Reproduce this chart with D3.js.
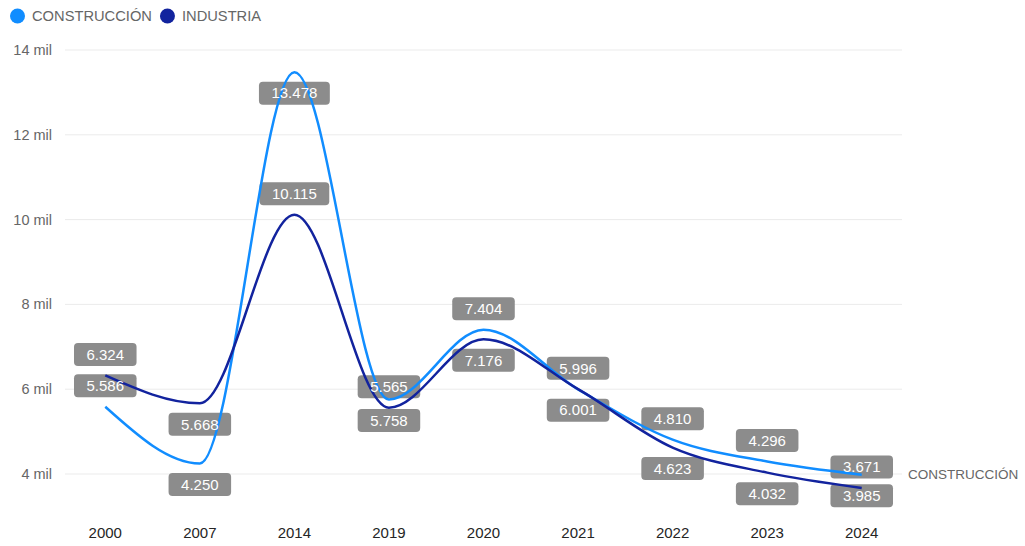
<!DOCTYPE html>
<html>
<head>
<meta charset="utf-8">
<script src="https://cdn.jsdelivr.net/npm/d3@7"></script>
<style>
  body { margin: 0; background: #fff; }
  text { font-family: "Liberation Sans", Arial, sans-serif; }
</style>
</head>
<body>
<script>
const width = 1025;
const height = 546;

const years = ['2000', '2007', '2014', '2019', '2020', '2021', '2022', '2023', '2024'];
const construccion = [5586, 4250, 13478, 5758, 7404, 5996, 4810, 4296, 3985];
const industria = [6324, 5668, 10115, 5565, 7176, 6001, 4623, 4032, 3671];
const yTicks = [4000, 6000, 8000, 10000, 12000, 14000];

// which side of the point the data label sits (true = above)
const consLabelAbove = [true, false, false, false, true, true, true, true, false];
const indLabelAbove = [true, false, true, true, false, false, false, false, true];

const series = [
  { name: 'CONSTRUCCIÓN', values: construccion, above: consLabelAbove, color: '#118DFF' },
  { name: 'INDUSTRIA', values: industria, above: indLabelAbove, color: '#12239E' }
];

const svg = d3.select('body').append('svg')
  .attr('width', width)
  .attr('height', height);

const x = d3.scalePoint()
  .domain(years)
  .range([58, 909])
  .padding(0.5);

const y = d3.scaleLinear()
  .domain([4000, 14000])
  .range([474, 50]);

const fmt = d3.format(',');
const fmtNum = v => fmt(v).replace(',', '.');

// gridlines + y labels
const grid = svg.append('g');
grid.selectAll('line')
  .data(yTicks)
  .enter().append('line')
  .attr('x1', 65)
  .attr('x2', 902)
  .attr('y1', d => y(d))
  .attr('y2', d => y(d))
  .style('stroke', '#ebebeb')
  .style('stroke-width', 1);

grid.selectAll('text')
  .data(yTicks)
  .enter().append('text')
  .attr('x', 52)
  .attr('y', d => y(d))
  .attr('dy', '0.35em')
  .attr('text-anchor', 'end')
  .style('font-size', '14.5px')
  .style('fill', '#666')
  .text(d => (d / 1000) + ' mil');

// x labels
svg.append('g').selectAll('text')
  .data(years)
  .enter().append('text')
  .attr('x', d => x(d))
  .attr('y', 538)
  .attr('text-anchor', 'middle')
  .style('font-size', '15px')
  .style('fill', '#252525')
  .text(d => d);

// legend
const legend = svg.append('g');
let lx = 10;
series.forEach(s => {
  legend.append('circle')
    .attr('cx', lx + 7.5)
    .attr('cy', 16)
    .attr('r', 7.5)
    .style('fill', s.color);
  const t = legend.append('text')
    .attr('x', lx + 22)
    .attr('y', 16)
    .attr('dy', '0.35em')
    .style('font-size', '14.7px')
    .style('fill', '#666')
    .text(s.name);
  lx += 22 + t.node().getComputedTextLength() + 8;
});

// label boxes behind the lines
const labels = [];
series.forEach(s => {
  s.values.forEach((v, i) => {
    labels.push({
      cx: x(years[i]),
      cy: y(v) + (s.above[i] ? -21 : 21),
      text: fmtNum(v)
    });
  });
});

const boxG = svg.append('g');
const textG = svg.append('g');

const line = d3.line()
  .x((d, i) => x(years[i]))
  .y(d => y(d))
  .curve(d3.curveMonotoneX);

const linesG = svg.append('g');
series.forEach(s => {
  linesG.append('path')
    .datum(s.values)
    .attr('d', line)
    .style('fill', 'none')
    .style('stroke', s.color)
    .style('stroke-width', 2.5);
});

textG.raise();
labels.forEach(l => {
  const t = textG.append('text')
    .attr('x', l.cx)
    .attr('y', l.cy)
    .attr('dy', '0.35em')
    .attr('text-anchor', 'middle')
    .style('font-size', '15px')
    .style('fill', '#fff')
    .text(l.text);
  const w = t.node().getComputedTextLength() + 25;
  boxG.append('rect')
    .attr('x', l.cx - w / 2)
    .attr('y', l.cy - 11.5)
    .attr('width', w)
    .attr('height', 23)
    .attr('rx', 4)
    .style('fill', '#8c8c8c');
});

// end label
svg.append('text')
  .attr('x', 908)
  .attr('y', y(construccion[construccion.length - 1]))
  .attr('dy', '0.35em')
  .style('font-size', '13.5px')
  .style('fill', '#666')
  .text('CONSTRUCCIÓN');
</script>
</body>
</html>
